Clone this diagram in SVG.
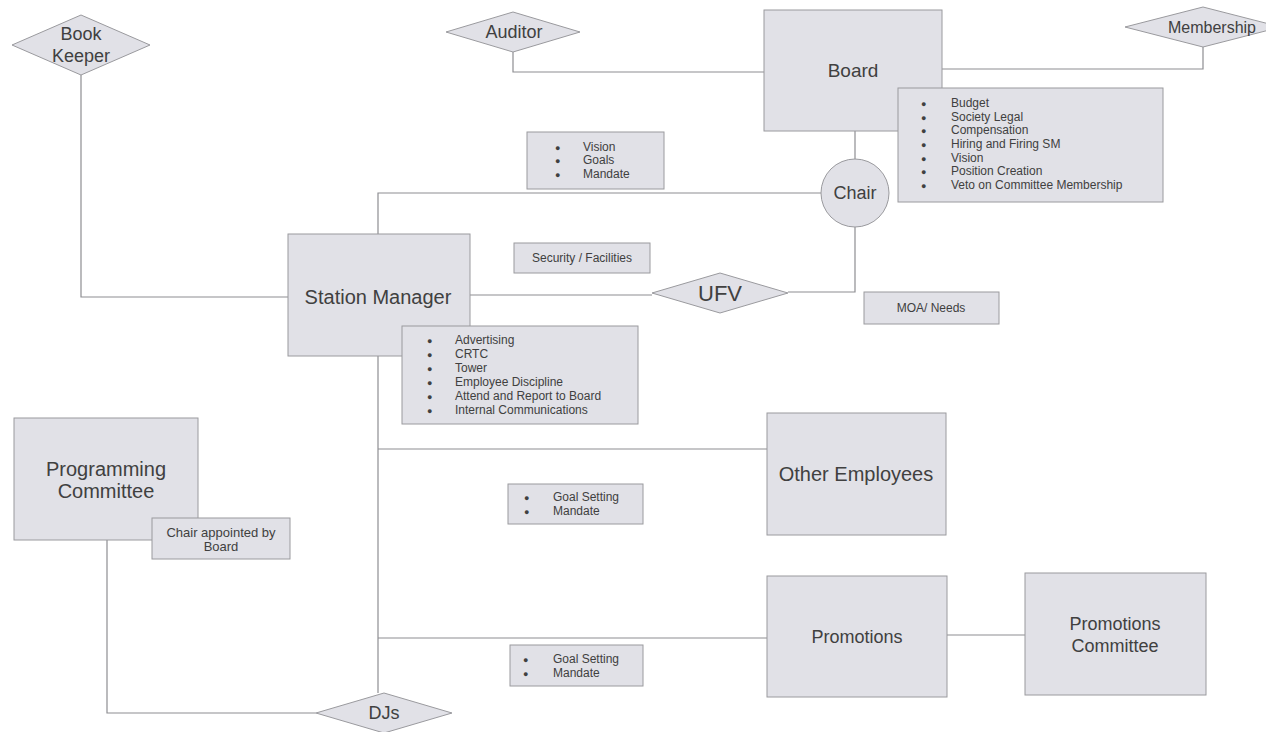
<svg xmlns="http://www.w3.org/2000/svg" width="1266" height="732" viewBox="0 0 1266 732">
<style>
.bx{fill:#e1e1e7;stroke:#9a9a9e;stroke-width:1}
.ln{fill:none;stroke:#8e8e92;stroke-width:1.2}
text{font-family:"Liberation Sans",Arial,sans-serif;fill:#404040}
.xl{font-size:20px;text-anchor:middle}
.lg{font-size:18px;text-anchor:middle}
.sm{font-size:12px}
.smc{font-size:12px;text-anchor:middle}
.bu{font-size:9px}
</style>
<rect width="1266" height="732" fill="#ffffff"/>
<g id="connectors">
<polyline class="ln" points="81,75 81,297 288,297"/>
<polyline class="ln" points="513,52 513,72 764,72"/>
<polyline class="ln" points="942,69 1203,69 1203,47"/>
<line class="ln" x1="855" y1="131" x2="855" y2="160"/>
<polyline class="ln" points="821,193 378,193 378,234"/>
<line class="ln" x1="470" y1="295" x2="652" y2="295"/>
<polyline class="ln" points="788,292 855,292 855,227"/>
<line class="ln" x1="378" y1="356" x2="378" y2="693"/>
<line class="ln" x1="378" y1="449" x2="767" y2="449"/>
<line class="ln" x1="378" y1="638" x2="767" y2="638"/>
<line class="ln" x1="947" y1="635" x2="1025" y2="635"/>
<polyline class="ln" points="107,540 107,713 316,713"/>
</g>
<g id="bookkeeper">
<polygon class="bx" points="12,45 81,15 150,45 81,75"/>
<text class="lg" x="81" y="40">Book</text>
<text class="lg" x="81" y="62">Keeper</text>
</g>
<g id="auditor">
<polygon class="bx" points="446,32 513,12 580,32 513,52"/>
<text class="lg" x="514" y="38">Auditor</text>
</g>
<g id="board">
<rect class="bx" x="764" y="10" width="178" height="121"/>
<text class="lg" x="853" y="77" style="font-size:19px">Board</text>
</g>
<g id="membership">
<polygon class="bx" points="1125,27 1203,7 1281,27 1203,47"/>
<text x="1212" y="33" style="font-size:16px;text-anchor:middle">Membership</text>
</g>
<g id="board-duties">
<rect class="bx" x="898" y="88" width="265" height="114"/>
<g class="sm">
<text class="bu" x="921" y="107">●</text><text x="951" y="107">Budget</text>
<text class="bu" x="921" y="121">●</text><text x="951" y="121">Society Legal</text>
<text class="bu" x="921" y="134">●</text><text x="951" y="134">Compensation</text>
<text class="bu" x="921" y="148">●</text><text x="951" y="148">Hiring and Firing SM</text>
<text class="bu" x="921" y="162">●</text><text x="951" y="162">Vision</text>
<text class="bu" x="921" y="175">●</text><text x="951" y="175">Position Creation</text>
<text class="bu" x="921" y="189">●</text><text x="951" y="189">Veto on Committee Membership</text>
</g>
</g>
<g id="chair">
<circle class="bx" cx="855" cy="193" r="34"/>
<text class="lg" x="855" y="199">Chair</text>
</g>
<g id="vision-box">
<rect class="bx" x="527" y="132" width="137" height="57"/>
<g class="sm">
<text class="bu" x="555" y="151">●</text><text x="583" y="151">Vision</text>
<text class="bu" x="555" y="164">●</text><text x="583" y="164">Goals</text>
<text class="bu" x="555" y="178">●</text><text x="583" y="178">Mandate</text>
</g>
</g>
<g id="station-manager">
<rect class="bx" x="288" y="234" width="182" height="122"/>
<text class="xl" x="378" y="304">Station Manager</text>
</g>
<g id="security">
<rect class="bx" x="514" y="243" width="136" height="30"/>
<text class="smc" x="582" y="262">Security / Facilities</text>
</g>
<g id="ufv">
<polygon class="bx" points="652,293 720,273 788,293 720,313"/>
<text class="xl" x="720" y="301" style="font-size:22px">UFV</text>
</g>
<g id="moa">
<rect class="bx" x="864" y="292" width="135" height="32"/>
<text class="smc" x="931" y="312">MOA/ Needs</text>
</g>
<g id="sm-duties">
<rect class="bx" x="402" y="326" width="236" height="98"/>
<g class="sm">
<text class="bu" x="427" y="344">●</text><text x="455" y="344">Advertising</text>
<text class="bu" x="427" y="358">●</text><text x="455" y="358">CRTC</text>
<text class="bu" x="427" y="372">●</text><text x="455" y="372">Tower</text>
<text class="bu" x="427" y="386">●</text><text x="455" y="386">Employee Discipline</text>
<text class="bu" x="427" y="400">●</text><text x="455" y="400">Attend and Report to Board</text>
<text class="bu" x="427" y="414">●</text><text x="455" y="414">Internal Communications</text>
</g>
</g>
<g id="other-employees">
<rect class="bx" x="767" y="413" width="179" height="122"/>
<text class="xl" x="856" y="481">Other Employees</text>
</g>
<g id="goal-box-1">
<rect class="bx" x="508" y="484" width="135" height="40"/>
<g class="sm">
<text class="bu" x="524" y="501">●</text><text x="553" y="501">Goal Setting</text>
<text class="bu" x="524" y="515">●</text><text x="553" y="515">Mandate</text>
</g>
</g>
<g id="programming-committee">
<rect class="bx" x="14" y="418" width="184" height="122"/>
<text class="xl" x="106" y="476">Programming</text>
<text class="xl" x="106" y="498">Committee</text>
</g>
<g id="chair-appointed">
<rect class="bx" x="152" y="518" width="138" height="41"/>
<text class="smc" x="221" y="537" style="font-size:13px">Chair appointed by</text>
<text class="smc" x="221" y="551" style="font-size:13px">Board</text>
</g>
<g id="promotions">
<rect class="bx" x="767" y="576" width="180" height="121"/>
<text class="lg" x="857" y="643">Promotions</text>
</g>
<g id="promotions-committee">
<rect class="bx" x="1025" y="573" width="181" height="122"/>
<text class="lg" x="1115" y="630">Promotions</text>
<text class="lg" x="1115" y="652">Committee</text>
</g>
<g id="goal-box-2">
<rect class="bx" x="510" y="645" width="133" height="41"/>
<g class="sm">
<text class="bu" x="523" y="663">●</text><text x="553" y="663">Goal Setting</text>
<text class="bu" x="523" y="677">●</text><text x="553" y="677">Mandate</text>
</g>
</g>
<g id="djs">
<polygon class="bx" points="316,713 384,693 452,713 384,733"/>
<text class="lg" x="384" y="719">DJs</text>
</g>
</svg>
